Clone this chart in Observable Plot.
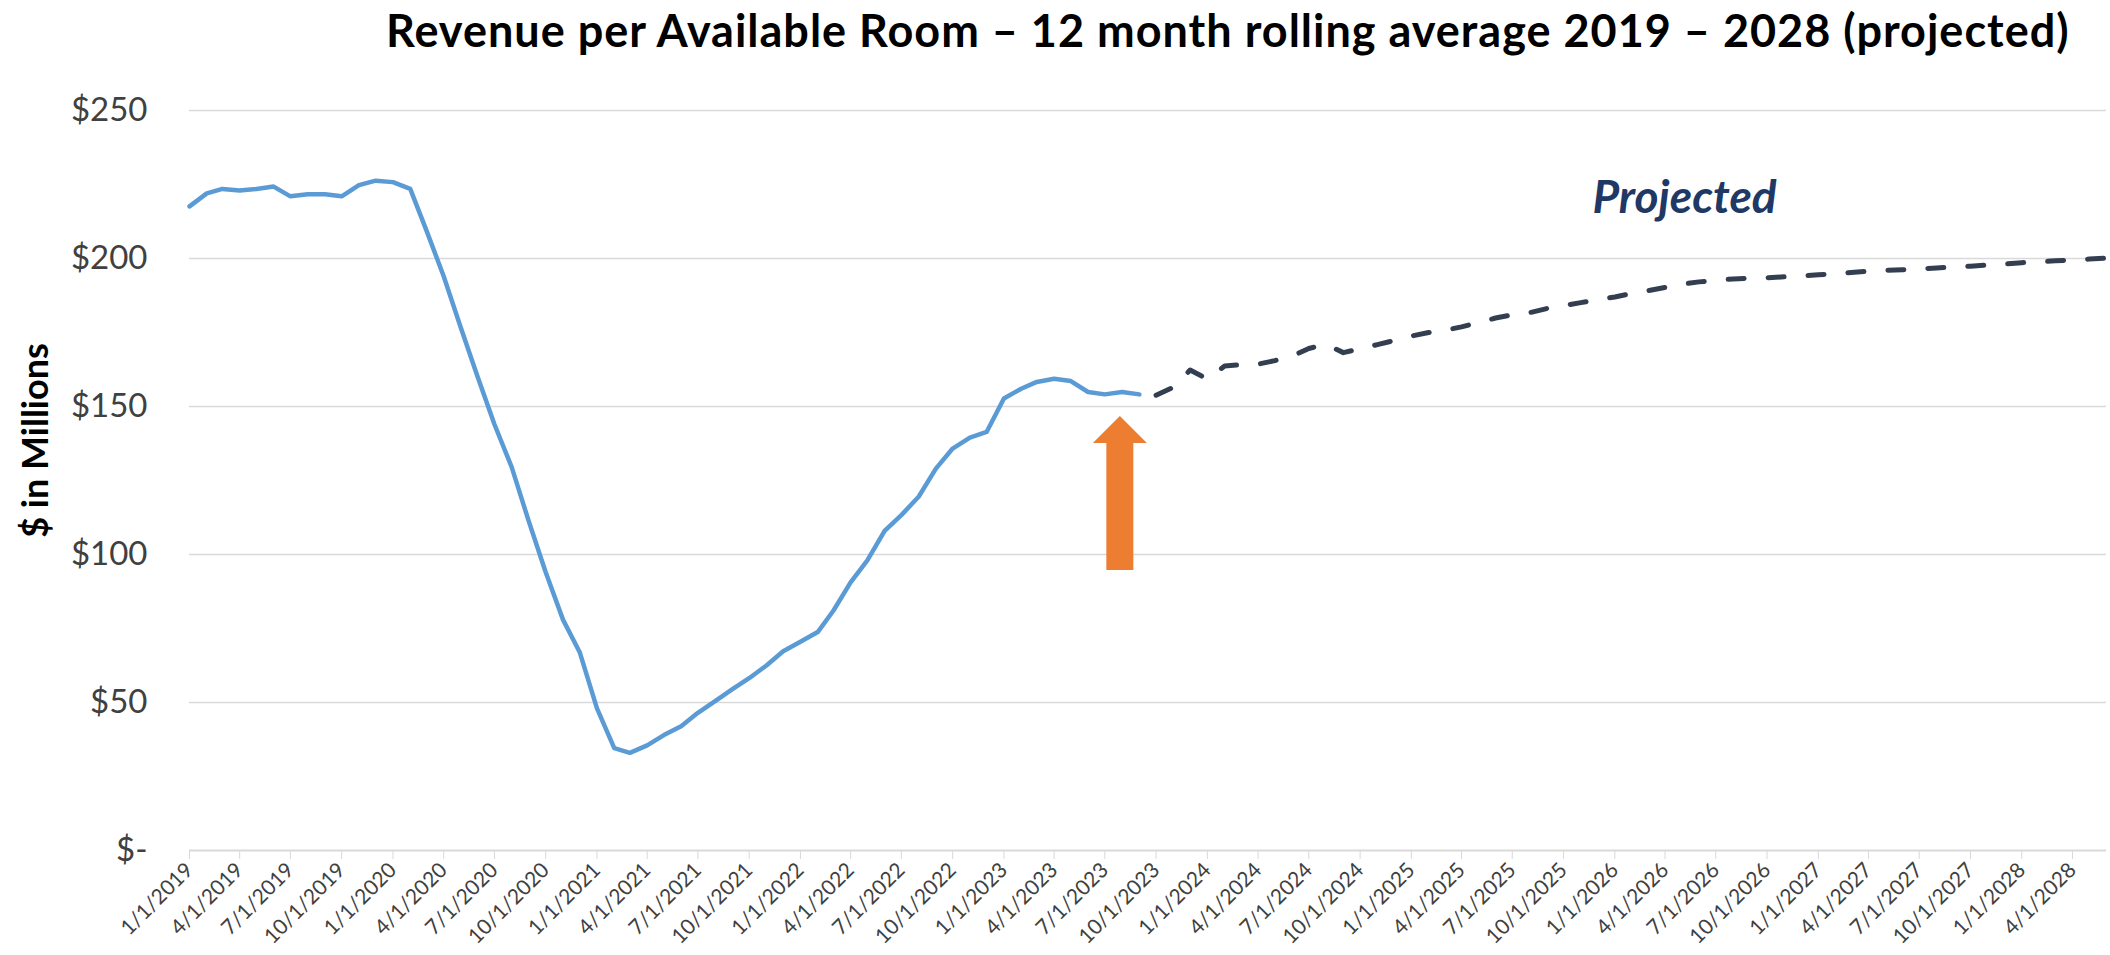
<!DOCTYPE html>
<html>
<head>
<meta charset="utf-8">
<script src="https://cdn.jsdelivr.net/npm/d3@7"></script>
<script src="https://cdn.jsdelivr.net/npm/@observablehq/plot@0.6"></script>
<style>
  html, body { margin: 0; padding: 0; background: #ffffff; }
  #wrap { position: relative; width: 2110px; height: 955px; overflow: hidden; }
  #title { position: absolute; left: 386px; top: 0; height: 60px; line-height: 60px; letter-spacing: 1px;
           font-family: Lato, "Open Sans", sans-serif; font-weight: bold; font-size: 45px; color: #000; white-space: nowrap; }
  #chart { position: absolute; left: 0; top: 60px; }
  #chart svg { display: block; }
</style>
</head>
<body>
<div id="wrap">
  <div id="title">Revenue per Available Room – 12 month rolling average 2019 – 2028 (projected)</div>
  <div id="chart"></div>
</div>
<script>
// ---- data (monthly, $ in millions) ----
const actualStart = "2019-01-01";
const actualValues = [
  217.6, 222.0, 223.5, 223.0, 223.5, 224.3, 221.0, 221.7, 221.7, 221.0, 224.8, 226.3,
  225.8, 223.5, 209.5, 194.0, 177.0, 160.0, 144.0, 129.5, 111.0, 94.0, 78.0, 67.0,
  48.0, 34.6, 33.0, 35.5, 39.0, 42.0, 46.5, 50.5, 54.5, 58.2, 62.5, 67.3,
  70.5, 73.8, 81.0, 90.6, 98.0, 108.0, 113.3, 119.5, 129.0, 135.8, 139.5, 141.4,
  152.7, 156.0, 158.3, 159.4, 158.6, 154.9, 154.1, 154.9, 154.1
];
const projectedStart = "2023-10-01";
const projectedValues = [
  153.8, 156.5, 162.3, 159.3, 163.7, 164.1, 164.3, 165.5, 167.0, 169.6, 171.0, 168.2,
  169.5, 170.9, 172.3, 173.8, 175.0, 175.7, 176.9, 178.3, 179.9, 181.0, 181.7, 183.1,
  184.1, 185.1, 186.1, 187.0, 188.2, 189.1, 190.2, 191.3, 192.1, 192.6, 193.1, 193.3,
  193.5, 193.8, 194.1, 194.5, 194.8, 195.3, 195.7, 196.0, 196.2, 196.5, 196.8, 197.1,
  197.4, 197.8, 198.1, 198.6, 198.9, 199.2, 199.5, 199.8, 200.1
];
const xDomain = ["2019-01-01", "2028-06-01"];
const yTicks = [0, 50, 100, 150, 200, 250];
const yLabel = "$ in Millions";
const projLabel = [{date: "2026-05-06", value: 220.5, text: "Projected"}];
const arrowNote = [{date: "2023-07-28", tip: 146.8}];

// ---- build tables ----
const parse = d3.utcParse("%Y-%m-%d");
const actual = actualValues.map((v, i) => ({date: d3.utcMonth.offset(parse(actualStart), i), value: v}));
const projected = projectedValues.map((v, i) => ({date: d3.utcMonth.offset(parse(projectedStart), i), value: v}));
const projTable = projLabel.map(d => ({...d, date: parse(d.date)}));
const arrowTable = arrowNote.map(d => ({...d, date: parse(d.date)}));

// block arrow symbol (tip at origin, pointing up)
const blockArrow = {
  draw(ctx) {
    ctx.moveTo(0, 0);
    ctx.lineTo(27, 27);
    ctx.lineTo(13.5, 27);
    ctx.lineTo(13.5, 154);
    ctx.lineTo(-13.5, 154);
    ctx.lineTo(-13.5, 27);
    ctx.lineTo(-27, 27);
    ctx.closePath();
  }
};

const fmtDate = d3.utcFormat("%-m/%-d/%Y");

const chart = Plot.plot({
  width: 2110,
  height: 895,
  marginTop: 50,
  marginBottom: 105,
  marginLeft: 189,
  marginRight: 4,
  style: {fontFamily: "Lato, 'Open Sans', sans-serif", background: "#ffffff", overflow: "visible"},
  x: {type: "utc", domain: xDomain.map(parse)},
  y: {domain: [0, 250]},
  marks: [
    Plot.gridY(yTicks.filter(d => d > 0), {stroke: "#d9d9d9", strokeOpacity: 1, strokeWidth: 1.5}),
    Plot.ruleY([0], {stroke: "#d9d9d9", strokeWidth: 2}),
    Plot.axisY(yTicks, {
      tickFormat: d => d === 0 ? "$-" : "$" + d,
      tickSize: 0, tickPadding: 42, fontSize: 33, fill: "#404040", label: null
    }),
    Plot.axisX({
      ticks: d3.utcMonth.every(3),
      tickFormat: fmtDate,
      tickSize: 9, tickPadding: 7, tickRotate: -45, textAnchor: "end",
      stroke: "#d9d9d9", fill: "#404040", fontSize: 21, label: null
    }),
    Plot.text([yLabel], {frameAnchor: "left", textAnchor: "middle", dx: -153, dy: -40, rotate: -90,
      fontSize: 36, fontWeight: "bold", fill: "#000"}),
    Plot.line(actual, {x: "date", y: "value", stroke: "#5B9BD5", strokeWidth: 4.5,
      strokeLinejoin: "round", strokeLinecap: "round"}),
    Plot.line(projected, {x: "date", y: "value", stroke: "#333F50", strokeWidth: 5,
      strokeDasharray: "16,24", strokeLinecap: "round", strokeLinejoin: "round"}),
    Plot.text(projTable, {x: "date", y: "value", text: "text", fontSize: 46,
      fontStyle: "italic", fontWeight: "bold", fill: "#203864"}),
    Plot.dot(arrowTable, {x: "date", y: "tip", symbol: blockArrow, r: 10,
      fill: "#ED7D31", stroke: "none"})
  ]
});
document.getElementById("chart").appendChild(chart);
</script>
</body>
</html>
